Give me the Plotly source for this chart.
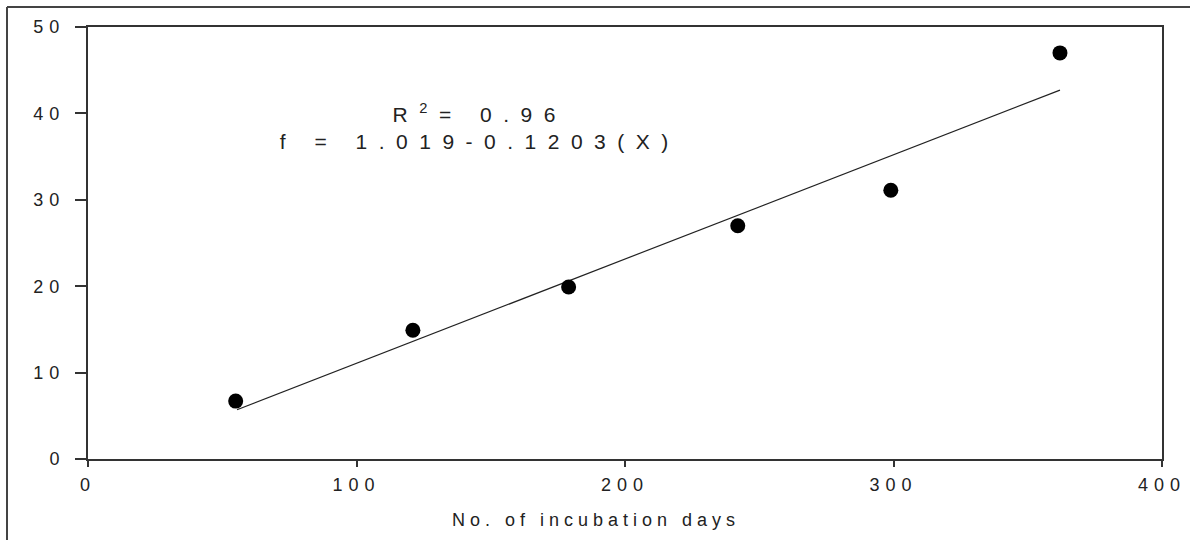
import plotly.graph_objects as go

days = [55, 121, 179, 242, 299, 362]
values = [6.7, 14.9, 19.9, 27.0, 31.1, 47.0]

# Fitted line end points
fit_days = [55.5, 362]
fit_values = [5.7, 42.7]

x_ticks = [0, 100, 200, 300, 400]
y_ticks = [0, 10, 20, 30, 40, 50]

eq_lines = ["R<sup>2</sup>= 0.96", "f = 1.019-0.1203(X)"]
x_title = "No. of incubation days"

FONT = "Liberation Sans, Arial, sans-serif"
AX = "#333333"

fig = go.Figure()
fig.add_trace(go.Scatter(
    x=fit_days, y=fit_values, mode="lines",
    line=dict(color="#222222", width=1.2), showlegend=False, hoverinfo="skip"))
fig.add_trace(go.Scatter(
    x=days, y=values, mode="markers",
    marker=dict(color="black", size=15, symbol="circle"), showlegend=False))

fig.add_annotation(
    x=146, y=38.5, xref="x", yref="y", text="<br>".join(eq_lines),
    showarrow=False, xanchor="center", yanchor="middle", align="center",
    font=dict(family=FONT, size=21, color="#222222"))

# x-axis title placed as annotation (slightly left of plot centre, as in the reference)
fig.add_annotation(
    x=0.473, y=-0.141, xref="paper", yref="paper", text=x_title,
    showarrow=False, xanchor="center", yanchor="middle",
    font=dict(family=FONT, size=18, color="#222222"))

# outer frame: left and top edges
fx0 = (7 - 88) / 1074
fy1 = (459 - 7) / 432
fig.add_shape(type="line", xref="paper", yref="paper",
              x0=fx0, x1=fx0, y0=-0.3, y1=fy1,
              line=dict(color="#444444", width=2), layer="above")
fig.add_shape(type="line", xref="paper", yref="paper",
              x0=fx0, x1=1.1, y0=fy1, y1=fy1,
              line=dict(color="#444444", width=2), layer="above")

fig.update_layout(
    width=1190, height=540,
    margin=dict(l=88, r=28, t=27, b=81),
    paper_bgcolor="white", plot_bgcolor="white",
    font=dict(family=FONT, size=18, color="#222222"),
    xaxis=dict(range=[0, 400], tickvals=x_ticks, showgrid=False, zeroline=False,
               showline=True, mirror=True, linecolor=AX, linewidth=2,
               ticks="outside", ticklen=6, tickwidth=1.5, tickcolor=AX,
               ticklabelstandoff=2),
    yaxis=dict(range=[0, 50], tickvals=y_ticks, showgrid=False, zeroline=False,
               showline=True, mirror=True, linecolor=AX, linewidth=2,
               ticks="outside", ticklen=11, tickwidth=1.5, tickcolor=AX,
               ticklabelstandoff=6),
)

post = """
document.body.style.margin='0';
var s=document.createElement('style');
s.textContent='.xtick text,.ytick text{letter-spacing:6px}'
 + '.annotation[data-index="0"] .annotation-text{letter-spacing:11.5px}'
 + '.annotation[data-index="1"] .annotation-text{letter-spacing:5px}';
document.head.appendChild(s);
"""
fig.write_html("out.html", post_script=post, config={"displayModeBar": False})
